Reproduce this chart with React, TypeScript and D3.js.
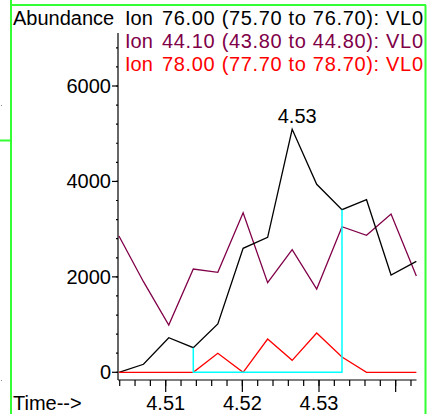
import React from "react";
import * as d3 from "d3";

const times = [4.5039, 4.5071, 4.5104, 4.5136, 4.5168, 4.5201, 4.5233, 4.5265, 4.5297, 4.533, 4.5362, 4.5394, 4.5427];
const ion76 = [0, 168, 725, 516, 1012, 2599, 2829, 5093, 3940, 3408, 3617, 2039, 2326];
const ion44 = [2856, 1899, 991, 2165, 2096, 3345, 1878, 2570, 1746, 3051, 2871, 3317, 2018];
const ion78 = [0, 0, 0, 0, 398, 0, 698, 251, 824, 321, 0, 0, 0];
const seriesLabels = ["76.00 (75.70 to 76.70): VL0", "44.10 (43.80 to 44.80): VL0", "78.00 (77.70 to 78.70): VL0"];
const seriesColors = ["#000000", "#800048", "#ff0000"];
const yMajorTicks = [0, 2000, 4000, 6000];
const xMajorTicks = [4.51, 4.52, 4.53, 4.54];
const xLabelTicks = [4.51, 4.52, 4.53];
const peakLabel = "4.53";
const integStart = 3;
const integEnd = 9;

export default function App() {
  const x = d3.scaleLinear().domain([4.51, 4.53]).range([165.7, 319.0]);
  const y = d3.scaleLinear().domain([0, 6000]).range([372.3, 86]);
  const axisX = 118;
  const axisY = 380;
  const axisTop = 33;
  const axisRight = 416.5;

  const line = d3
    .line<number>()
    .x((_, i) => x(times[i]))
    .y((d) => y(d));

  const yMinor = d3.range(0, 7001, 400);
  const xMinor = d3.range(4.504, 4.5425, 0.002);

  const peakIdx = ion76.indexOf(d3.max(ion76) as number);

  const cyanPath = [
    [x(times[integStart]), y(ion76[integStart])],
    [x(times[integStart]), y(0)],
    [x(times[integEnd]), y(0)],
    [x(times[integEnd]), y(ion76[integEnd])],
  ];

  const font = "'Liberation Sans', Arial, sans-serif";

  return (
    <svg
      width={427}
      height={414}
      style={{ position: "absolute", left: 0, top: 0, background: "#fff" }}
      fontFamily={font}
    >
      <rect x={0} y={0} width={427} height={414} fill="#fff" />
      {/* green frame */}
      <g stroke="#33ff33" strokeWidth={2} fill="none">
        <line x1={11} y1={0} x2={11} y2={414} />
        <line x1={11} y1={5} x2={426} y2={5} />
        <line x1={425.5} y1={5} x2={425.5} y2={414} />
        <line x1={0} y1={140.5} x2={11} y2={140.5} />
      </g>
      <rect x={1} y={105} width={1} height={1} fill="#888" />
      <rect x={1} y={380} width={1} height={1} fill="#888" />

      {/* axes */}
      <g stroke="#000" strokeWidth={1.2}>
        <line x1={axisX} y1={axisTop} x2={axisX} y2={axisY} />
        <line x1={axisX} y1={axisY} x2={axisRight} y2={axisY} />
        {yMinor.map((v) => (
          <line key={"ym" + v} x1={axisX - 2} y1={y(v)} x2={axisX} y2={y(v)} />
        ))}
        {yMajorTicks.map((v) => (
          <line key={"yM" + v} x1={axisX - 6} y1={y(v)} x2={axisX} y2={y(v)} />
        ))}
        {xMinor.map((v, i) => (
          <line key={"xm" + i} x1={x(v)} y1={axisY} x2={x(v)} y2={axisY + 6} />
        ))}
        {xMajorTicks.map((v) => (
          <line key={"xM" + v} x1={x(v)} y1={axisY} x2={x(v)} y2={axisY + 12} />
        ))}
      </g>
      <g fontSize={20} fill="#000">
        {yMajorTicks.map((v) => (
          <text key={"yl" + v} x={axisX - 7} y={y(v) + 7} textAnchor="end">
            {v}
          </text>
        ))}
        {xLabelTicks.map((v) => (
          <text key={"xl" + v} x={x(v)} y={410} textAnchor="middle">
            {v.toFixed(2)}
          </text>
        ))}
        <text x={13} y={410}>Time--&gt;</text>
        <text x={13} y={25}>Abundance</text>
      </g>

      {/* legend */}
      <g fontSize={20}>
        {seriesLabels.map((s, i) => (
          <g key={s} fill={seriesColors[i]}>
            <text x={125} y={25 + i * 23}>Ion</text>
            <text x={162} y={25 + i * 23} textLength={261} lengthAdjust="spacing">
              {s}
            </text>
          </g>
        ))}
      </g>

      {/* series */}
      <g fill="none" strokeWidth={1.3} strokeLinejoin="miter">
        <path d={line(ion44) as string} stroke={seriesColors[1]} />
        <path d={line(ion76) as string} stroke={seriesColors[0]} />
        <path d={line(ion78) as string} stroke={seriesColors[2]} />
      </g>
      <path
        d={d3.line()(cyanPath as [number, number][]) as string}
        fill="none"
        stroke="#00ffff"
        strokeWidth={1.5}
      />
      <text x={x(times[peakIdx]) + 5} y={123} fontSize={20} textAnchor="middle" fill="#000">
        {peakLabel}
      </text>
    </svg>
  );
}
